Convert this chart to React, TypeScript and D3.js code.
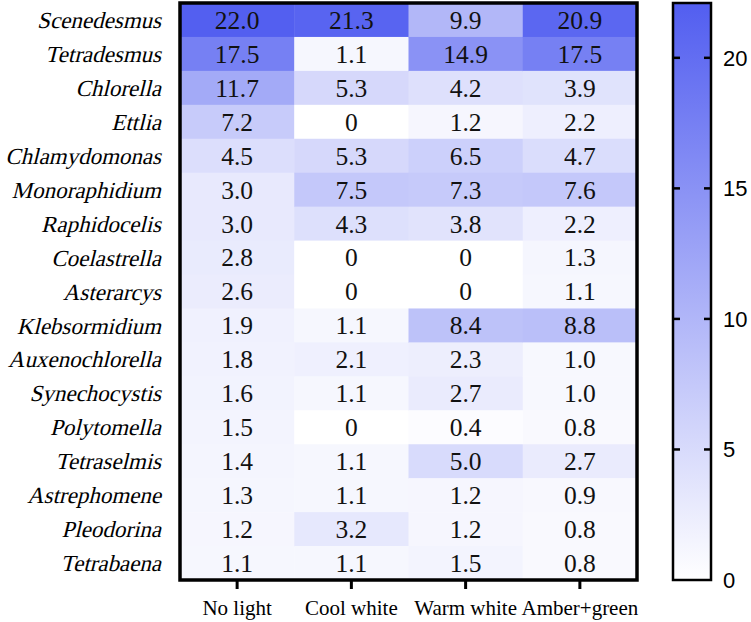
import React from "react";
import * as d3 from "d3";

const species = [
  "Scenedesmus", "Tetradesmus", "Chlorella", "Ettlia", "Chlamydomonas",
  "Monoraphidium", "Raphidocelis", "Coelastrella", "Asterarcys", "Klebsormidium",
  "Auxenochlorella", "Synechocystis", "Polytomella", "Tetraselmis", "Astrephomene",
  "Pleodorina", "Tetrabaena",
];
const conditions = ["No light", "Cool white", "Warm white", "Amber+green"];
const noLight = [22.0, 17.5, 11.7, 7.2, 4.5, 3.0, 3.0, 2.8, 2.6, 1.9, 1.8, 1.6, 1.5, 1.4, 1.3, 1.2, 1.1];
const coolWhite = [21.3, 1.1, 5.3, 0, 5.3, 7.5, 4.3, 0, 0, 1.1, 2.1, 1.1, 0, 1.1, 1.1, 3.2, 1.1];
const warmWhite = [9.9, 14.9, 4.2, 1.2, 6.5, 7.3, 3.8, 0, 0, 8.4, 2.3, 2.7, 0.4, 5.0, 1.2, 1.2, 1.5];
const amberGreen = [20.9, 17.5, 3.9, 2.2, 4.7, 7.6, 2.2, 1.3, 1.1, 8.8, 1.0, 1.0, 0.8, 2.7, 0.9, 0.8, 0.8];
const colorTicks = [0, 5, 10, 15, 20];

const W = 751;
const H = 622;
const hm = { left: 180, right: 637, top: 3, bottom: 580 };
const cb = { left: 673, right: 711, top: 3, bottom: 580 };
const maxVal = 22.1;
const lowColor = "#ffffff";
const highColor = "rgb(82,94,240)";

export default function App() {
  const series = [noLight, coolWhite, warmWhite, amberGreen];
  const x = d3.scaleBand<string>().domain(conditions).range([hm.left, hm.right]);
  const y = d3.scaleBand<string>().domain(species).range([hm.top, hm.bottom]);
  const color = d3.scaleLinear<string>().domain([0, maxVal]).range([lowColor, highColor]).interpolate(d3.interpolateRgb);
  const cy = d3.scaleLinear().domain([0, maxVal]).range([cb.bottom, cb.top]);
  const fmt = (v: number) => (v === 0 ? "0" : v.toFixed(1));
  const serif = "Liberation Serif, Times New Roman, serif";
  const sans = "Liberation Sans, Arial, Helvetica, sans-serif";

  return (
    <svg width={W} height={H} style={{ position: "absolute", left: 0, top: 0, background: "#fff" }}>
      <defs>
        <linearGradient id="cbgrad" x1="0" y1="1" x2="0" y2="0">
          <stop offset="0%" stopColor={lowColor} />
          <stop offset="100%" stopColor={highColor} />
        </linearGradient>
      </defs>
      {series.map((vals, ci) =>
        vals.map((v, ri) => (
          <g key={`${ci}-${ri}`}>
            <rect
              x={x(conditions[ci])!}
              y={y(species[ri])!}
              width={x.bandwidth() + 0.5}
              height={y.bandwidth() + 0.5}
              fill={color(v)}
            />
            <text
              x={x(conditions[ci])! + x.bandwidth() / 2}
              y={y(species[ri])! + y.bandwidth() / 2}
              dy="0.35em"
              textAnchor="middle"
              style={{ fontFamily: serif, fontSize: 25.5 }}
              fill="#111"
            >
              {fmt(v)}
            </text>
          </g>
        ))
      )}
      <rect x={hm.left} y={hm.top} width={hm.right - hm.left} height={hm.bottom - hm.top} fill="none" stroke="#000" strokeWidth={3.5} />
      {species.map((s) => (
        <g key={s} transform={`translate(163,${y(s)! + y.bandwidth() / 2}) skewX(-14)`}>
          <text
            x={0}
            y={0}
            dy="0.35em"
            textAnchor="end"
            style={{ fontFamily: serif, fontSize: 23 }}
            fill="#000"
          >
            {s}
          </text>
        </g>
      ))}
      {conditions.map((c) => (
        <g key={c}>
          <line x1={x(c)! + x.bandwidth() / 2} x2={x(c)! + x.bandwidth() / 2} y1={hm.bottom} y2={hm.bottom + 9} stroke="#000" strokeWidth={3} />
          <text x={x(c)! + x.bandwidth() / 2} y={608} dy="0.35em" textAnchor="middle" style={{ fontFamily: serif, fontSize: 21 }} fill="#000">
            {c}
          </text>
        </g>
      ))}
      <rect x={cb.left} y={cb.top} width={cb.right - cb.left} height={cb.bottom - cb.top} fill="url(#cbgrad)" stroke="#000" strokeWidth={2.5} />
      {colorTicks.map((t) => (
        <g key={t}>
          {t !== 0 && (
            <>
              <line x1={cb.left} x2={cb.left + 7} y1={cy(t)} y2={cy(t)} stroke="#000" strokeWidth={2.5} />
              <line x1={cb.right - 7} x2={cb.right} y1={cy(t)} y2={cy(t)} stroke="#000" strokeWidth={2.5} />
            </>
          )}
          <text x={723} y={cy(t)} dy="0.36em" style={{ fontFamily: sans, fontSize: 22 }} fill="#000">
            {t}
          </text>
        </g>
      ))}
    </svg>
  );
}
